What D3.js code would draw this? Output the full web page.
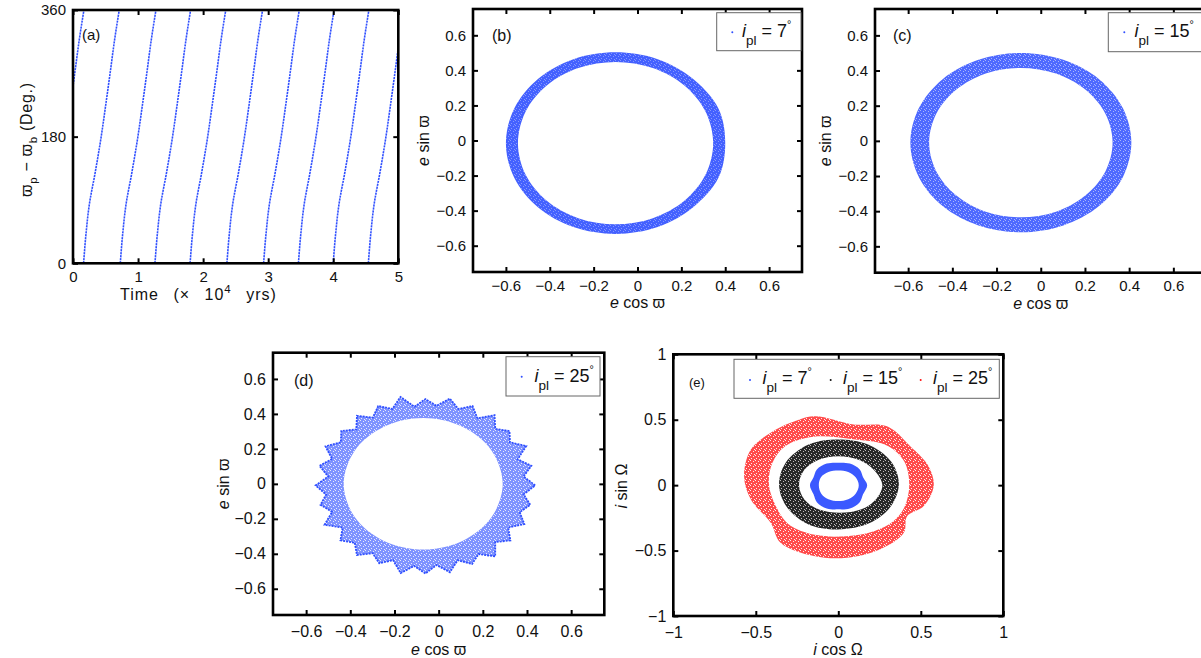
<!DOCTYPE html>
<html>
<head>
<meta charset="utf-8">
<script src="https://cdn.jsdelivr.net/npm/d3@7"></script>
<style>
  body { margin: 0; background: #fff; }
  svg { display: block; }
</style>
</head>
<body>
<div class="container"></div>
<script>
var W = 1201;
var H = 658;
var FONT = "'Liberation Sans', Arial, Helvetica, sans-serif";

// ---- (a) resonant angle sweeps: start time of each sweep (x 10^4 yrs) and the sweep shape
const sweepStart = [-0.38, 0.163, 0.727, 1.26, 1.80, 2.366, 2.93, 3.465, 4.00, 4.54];
const sweepDeg = [0, 40, 83, 130, 178, 225, 272, 320, 360];
const sweepDt = [0, 0.035, 0.087, 0.18, 0.267, 0.34, 0.41, 0.48, 0.548];
const timeTicks = [0, 1, 2, 3, 4, 5];
const angleTicks = [0, 180, 360];

// ---- (b) i_pl = 7 deg, eccentricity vector ring
const ringB_outer = [[0.40, -0.015], [0.37, 0.18], [0.254, 0.351], [0.092, 0.464], [-0.1, 0.503],
  [-0.292, 0.464], [-0.454, 0.351], [-0.562, 0.183], [-0.6, -0.015], [-0.562, -0.213], [-0.454, -0.381],
  [-0.292, -0.494], [-0.1, -0.533], [0.092, -0.494], [0.254, -0.381], [0.37, -0.21]];
const ringB_inner = [[0.345, -0.015], [0.311, 0.162], [0.215, 0.312], [0.07, 0.413], [-0.1, 0.448],
  [-0.27, 0.413], [-0.415, 0.312], [-0.511, 0.162], [-0.545, -0.015], [-0.511, -0.192], [-0.415, -0.342],
  [-0.27, -0.443], [-0.1, -0.478], [0.07, -0.443], [0.215, -0.342], [0.311, -0.192]];

// ---- (c) i_pl = 15 deg
const ringC_outer = [[0.41, -0.01], [0.372, 0.185], [0.264, 0.351], [0.102, 0.461], [-0.09, 0.50],
  [-0.282, 0.461], [-0.444, 0.351], [-0.552, 0.185], [-0.59, -0.01], [-0.552, -0.205], [-0.444, -0.371],
  [-0.282, -0.481], [-0.09, -0.52], [0.102, -0.481], [0.264, -0.371], [0.372, -0.205]];
const ringC_inner = [[0.325, -0.01], [0.293, 0.153], [0.203, 0.29], [0.069, 0.383], [-0.09, 0.415],
  [-0.249, 0.383], [-0.383, 0.29], [-0.473, 0.153], [-0.505, -0.01], [-0.473, -0.173], [-0.383, -0.31],
  [-0.249, -0.403], [-0.09, -0.435], [0.069, -0.403], [0.203, -0.31], [0.293, -0.173]];

// ---- (d) i_pl = 25 deg: zig-zag outer edge (relative radius, evenly spaced in angle)
const ringD_center = [-0.06, -0.009];
const ringD_axes = [0.497, 0.509];
const ringD_radii = [1.0, 0.9, 0.99, 0.89, 1.02, 0.91, 0.98, 0.9, 1.01, 0.89, 0.99, 0.91, 1.0, 0.9,
  0.97, 0.89, 1.02, 0.91, 0.99, 0.9, 1.0, 0.89, 0.98, 0.91, 1.01, 0.9, 0.99, 0.89, 1.0, 0.91,
  0.98, 0.9, 1.02, 0.89, 0.99, 0.91, 1.0, 0.9, 0.97, 0.89, 1.01, 0.91, 0.99, 0.9, 1.0, 0.89,
  0.98, 0.91, 1.02, 0.9, 0.99, 0.89, 1.0, 0.91, 0.98, 0.9];
const ringD_inner = [[0.29, 0.0], [0.24, 0.19], [0.11, 0.325], [-0.07, 0.376], [-0.25, 0.325],
  [-0.38, 0.19], [-0.43, 0.0], [-0.38, -0.19], [-0.25, -0.325], [-0.07, -0.376], [0.11, -0.325], [0.24, -0.19]];

// ---- (e) inclination vector rings
const incl7_outer = [[0.175, 0.0], [0.15, 0.06], [0.13, 0.12], [0.07, 0.165], [0.0, 0.172], [-0.07, 0.165],
  [-0.13, 0.12], [-0.15, 0.06], [-0.172, 0.0], [-0.15, -0.07], [-0.13, -0.13], [-0.07, -0.178],
  [0.0, -0.185], [0.07, -0.178], [0.13, -0.13], [0.15, -0.07]];
const incl7_inner = [[0.124, 0.0], [0.105, 0.06], [0.06, 0.1], [0.0, 0.112], [-0.06, 0.1], [-0.105, 0.06],
  [-0.118, 0.0], [-0.103, -0.065], [-0.06, -0.108], [0.0, -0.122], [0.06, -0.108], [0.105, -0.065]];
const incl15_outer = [[0.367, 0.01], [0.32, 0.18], [0.18, 0.31], [0.0, 0.349], [-0.18, 0.31], [-0.32, 0.17],
  [-0.359, 0.0], [-0.31, -0.17], [-0.18, -0.30], [0.0, -0.338], [0.19, -0.29], [0.32, -0.16]];
const incl15_inner = [[0.267, 0.0], [0.22, 0.11], [0.13, 0.19], [0.0, 0.221], [-0.125, 0.19], [-0.21, 0.11],
  [-0.238, 0.0], [-0.205, -0.11], [-0.12, -0.185], [0.01, -0.211], [0.14, -0.185], [0.23, -0.105]];
const incl25_outer = [[-0.148, 0.527], [0.093, 0.464], [0.295, 0.45], [0.436, 0.298], [0.547, 0.145],
  [0.578, -0.007], [0.518, -0.16], [0.417, -0.237], [0.397, -0.364], [0.255, -0.49], [0.053, -0.555],
  [-0.148, -0.542], [-0.35, -0.44], [-0.41, -0.287], [-0.53, -0.11], [-0.571, 0.069], [-0.53, 0.272],
  [-0.41, 0.4], [-0.289, 0.476]];
const incl25_inner = [[-0.15, 0.37], [0.09, 0.35], [0.30, 0.3], [0.40, 0.18], [0.43, 0.0], [0.40, -0.17],
  [0.33, -0.28], [0.22, -0.35], [0.05, -0.39], [-0.14, -0.38], [-0.30, -0.30], [-0.37, -0.18],
  [-0.42, 0.0], [-0.40, 0.17], [-0.32, 0.30]];

const eccTicks = [-0.6, -0.4, -0.2, 0, 0.2, 0.4, 0.6];
const incTicks = [-1, -0.5, 0, 0.5, 1];
const legendValues = ["7", "15", "25"];

var BLUE = "#3050ff";

var svg = d3.select(".container").append("svg")
  .attr("width", W).attr("height", H)
  .attr("font-family", FONT);

svg.append("rect").attr("width", W).attr("height", H).attr("fill", "#fff");

// sparse white speckle so the filled rings read like dense dot clouds
var defs = svg.append("defs");
var speckle = defs.append("pattern").attr("id", "speckle")
  .attr("width", 5).attr("height", 5).attr("patternUnits", "userSpaceOnUse");
[[0, 0], [3, 1], [1, 3], [4, 4]].forEach(function (p) {
  speckle.append("rect").attr("x", p[0]).attr("y", p[1]).attr("width", 1).attr("height", 1).attr("fill", "#fff");
});

function fmt(d) {
  return String(d).replace("-", "\u2212");
}

function setupPanel(p) {
  var x = d3.scaleLinear().domain(p.xDomain).range([p.left, p.right]);
  var y = d3.scaleLinear().domain(p.yDomain).range([p.bottom, p.top]);
  var g = svg.append("g");
  g.append("clipPath").attr("id", "clip-" + p.id)
    .append("rect")
    .attr("x", p.left).attr("y", p.top)
    .attr("width", p.right - p.left).attr("height", p.bottom - p.top);
  var plot = g.append("g").attr("clip-path", "url(#clip-" + p.id + ")");
  return { g: g, plot: plot, x: x, y: y };
}

function finishPanel(P, p) {
  var g = P.g, x = P.x, y = P.y;
  var t = 5;
  g.append("g").attr("transform", "translate(0," + p.bottom + ")")
    .call(d3.axisBottom(x).tickValues(p.xTicks).tickSize(-t).tickPadding(p.xPad).tickFormat(fmt));
  g.append("g").attr("transform", "translate(" + p.left + ",0)")
    .call(d3.axisLeft(y).tickValues(p.yTicks).tickSize(-t).tickPadding(7).tickFormat(fmt));
  g.append("g").attr("transform", "translate(0," + p.top + ")")
    .call(d3.axisTop(x).tickValues(p.xTicks).tickSize(-t).tickFormat(""));
  g.append("g").attr("transform", "translate(" + p.right + ",0)")
    .call(d3.axisRight(y).tickValues(p.yTicks).tickSize(-t).tickFormat(""));
  g.selectAll(".domain").remove();
  g.selectAll(".tick line").attr("stroke", "#000").attr("stroke-width", 2);
  g.selectAll(".tick text")
    .attr("font-size", p.tickFont)
    .attr("font-family", FONT)
    .attr("fill", "#111");

  // thick frame
  g.append("rect")
    .attr("x", p.left).attr("y", p.top)
    .attr("width", p.right - p.left).attr("height", p.bottom - p.top)
    .attr("fill", "none").attr("stroke", "#000").attr("stroke-width", 2.6);

  // panel tag
  g.append("text")
    .attr("x", p.tag[0]).attr("y", p.tag[1])
    .attr("font-size", p.tagFont).attr("fill", "#111")
    .text(p.tagText);
}

// axis label made of pieces: t text, i italic, sub / sup shift
function axisLabel(g, x, y, rotate, size, parts, length) {
  var t = g.append("text")
    .attr("font-size", size).attr("fill", "#111")
    .attr("text-anchor", "middle")
    .attr("transform", "translate(" + x + "," + y + ")" + (rotate ? " rotate(-90)" : ""));
  var shift = 0;
  parts.forEach(function (pt) {
    var s = t.append("tspan").text(pt.t);
    if (pt.i) s.attr("font-style", "italic");
    var want = pt.sub ? 5 : pt.sup ? -7 : 0;
    if (want !== shift) s.attr("dy", want - shift);
    if (pt.sub || pt.sup) s.attr("font-size", size * 0.72);
    shift = want;
  });
  if (length) t.attr("textLength", length).attr("lengthAdjust", "spacing");
  return t;
}

function legend(g, box, items, size) {
  g.append("rect")
    .attr("x", box[0]).attr("y", box[1])
    .attr("width", box[2] - box[0]).attr("height", box[3] - box[1])
    .attr("fill", "#fff").attr("stroke", "#666").attr("stroke-width", 1);
  items.forEach(function (it) {
    g.append("circle").attr("cx", it.dot[0]).attr("cy", it.dot[1]).attr("r", 1)
      .attr("fill", it.color);
    var t = g.append("text").attr("x", it.tx).attr("y", it.ty)
      .attr("font-size", size).attr("fill", "#111");
    t.append("tspan").attr("font-style", "italic").text("i");
    t.append("tspan").attr("font-size", size * 0.75).attr("dy", 8).text("pl");
    t.append("tspan").attr("dy", -8).text(" = " + it.value);
    t.append("tspan").attr("font-size", size * 0.6).attr("dy", -9).text("\u00b0");
  });
}

function ring(P, outer, inner, curveOuter) {
  var lo = d3.line().x(function (d) { return P.x(d[0]); }).y(function (d) { return P.y(d[1]); })
    .curve(curveOuter || d3.curveCatmullRomClosed);
  var li = d3.line().x(function (d) { return P.x(d[0]); }).y(function (d) { return P.y(d[1]); })
    .curve(d3.curveCatmullRomClosed);
  return lo(outer) + li(inner);
}

function drawRing(P, d, color, opacity, speck) {
  P.plot.append("path").attr("d", d)
    .attr("fill", color).attr("fill-rule", "evenodd").attr("fill-opacity", opacity);
  if (speck) {
    P.plot.append("path").attr("d", d)
      .attr("fill", "url(#speckle)").attr("fill-rule", "evenodd").attr("opacity", speck);
  }
}

// ================= (a)
var pa = { id: "a", left: 73, right: 398.3, top: 10, bottom: 263.3, xDomain: [0, 5], yDomain: [0, 360],
  xTicks: timeTicks, yTicks: angleTicks, xPad: 8, tickFont: 15, tag: [82, 40], tagText: "(a)", tagFont: 15 };
var A = setupPanel(pa);
var sweepLine = d3.line()
  .x(function (d) { return A.x(d[0]); })
  .y(function (d) { return A.y(d[1]); })
  .curve(d3.curveMonotoneY);
A.plot.selectAll("path.sweep")
  .data(sweepStart)
  .enter().append("path")
  .attr("class", "sweep")
  .attr("d", function (t0) {
    return sweepLine(sweepDeg.map(function (deg, i) { return [t0 + sweepDt[i], deg]; }));
  })
  .attr("fill", "none").attr("stroke", BLUE).attr("stroke-width", 1.6)
  .attr("stroke-dasharray", "2.2 0.8");
finishPanel(A, pa);

// x label of (a)
var timeLab = A.g.append("text").attr("x", 120).attr("y", 300)
  .attr("font-size", 16).attr("fill", "#111")
  .attr("letter-spacing", 1).attr("word-spacing", 9);
timeLab.append("tspan").text("Time (\u00d7 10");
timeLab.append("tspan").attr("dy", -7).attr("font-size", 11.5).text("4");
timeLab.append("tspan").attr("dy", 7).text(" yrs)");

axisLabel(A.g, 32, 140, true, 16,
  [{ t: "\u03d6" }, { t: "p", sub: true }, { t: " \u2212 \u03d6" }, { t: "b", sub: true }, { t: " (Deg.)" }], 114);

// ================= (b), (c), (d)
var eccPanels = [
  { id: "b", left: 473, right: 802, top: 9, bottom: 272, tag: [492, 41], lab: 1, legendBox: [716.7, 12.7, 801, 50.7],
    dot: [732.3, 32.3], tx: 742, ty: 37, value: legendValues[0] },
  { id: "c", left: 875, right: 1206.5, top: 9, bottom: 272.7, tag: [893, 41], lab: 1, legendBox: [1108.3, 12.7, 1210, 51.7],
    dot: [1124.3, 32.3], tx: 1134.5, ty: 37, value: legendValues[1] },
  { id: "d", left: 273, right: 604.3, top: 352.7, bottom: 615, tag: [294, 386], lab: 2, legendBox: [506, 356.7, 600, 396],
    dot: [521.7, 376.7], tx: 534.5, ty: 381.5, value: legendValues[2] }
];

eccPanels.forEach(function (p) {
  p.xDomain = [-0.75, 0.75]; p.yDomain = [-0.75, 0.75];
  p.xTicks = eccTicks; p.yTicks = eccTicks;
  p.xPad = p.lab === 1 ? 8 : 11;
  p.tickFont = p.lab === 1 ? 15 : 16;
  p.tagText = "(" + p.id + ")"; p.tagFont = 16;
  var P = setupPanel(p);

  if (p.id === "b") {
    drawRing(P, ring(P, ringB_outer, ringB_inner), BLUE, 0.9, 0.35);
  } else if (p.id === "c") {
    drawRing(P, ring(P, ringC_outer, ringC_inner), BLUE, 0.85, 0.5);
  } else {
    var n = ringD_radii.length;
    var zig = ringD_radii.map(function (r, i) {
      var a = i / n * 2 * Math.PI;
      return [ringD_center[0] + ringD_axes[0] * r * Math.cos(a), ringD_center[1] + ringD_axes[1] * r * Math.sin(a)];
    });
    drawRing(P, ring(P, zig, ringD_inner, d3.curveLinearClosed), BLUE, 0.62, 0.8);
    P.plot.append("path")
      .attr("d", d3.line().x(function (d) { return P.x(d[0]); }).y(function (d) { return P.y(d[1]); })
        .curve(d3.curveLinearClosed)(zig))
      .attr("fill", "none").attr("stroke", BLUE).attr("stroke-width", 1.8).attr("stroke-dasharray", "2 1");
  }

  finishPanel(P, p);
  var labY = p.lab === 1 ? p.bottom + 36 : p.bottom + 40;
  axisLabel(P.g, (p.left + p.right) / 2, labY, false, 16,
    [{ t: "e", i: true }, { t: " cos \u03d6" }]);
  axisLabel(P.g, p.left - 44, (p.top + p.bottom) / 2, true, 16,
    [{ t: "e", i: true }, { t: " sin \u03d6" }]);
  legend(P.g, p.legendBox, [{ dot: p.dot, tx: p.tx, ty: p.ty, value: p.value, color: BLUE }], 18);
});

// ================= (e)
var pe = { id: "e", left: 673.3, right: 1003.3, top: 354.3, bottom: 616, xDomain: [-1, 1], yDomain: [-1, 1],
  xTicks: incTicks, yTicks: incTicks, xPad: 11, tickFont: 16, tag: [689, 387], tagText: "(e)", tagFont: 13 };
var E = setupPanel(pe);
drawRing(E, ring(E, incl25_outer, incl25_inner), "#ff1010", 0.75, 0.9);
drawRing(E, ring(E, incl15_outer, incl15_inner), "#111", 0.9, 0.7);
drawRing(E, ring(E, incl7_outer, incl7_inner), BLUE, 0.95, 0);
finishPanel(E, pe);
axisLabel(E.g, 838, 655, false, 16, [{ t: "i", i: true }, { t: " cos \u03a9" }]);
axisLabel(E.g, 627, 486, true, 16, [{ t: "i", i: true }, { t: " sin \u03a9" }]);
legend(E.g, [734, 359.3, 999.3, 398.3], [
  { dot: [750, 380], tx: 762.5, ty: 384, value: legendValues[0], color: BLUE },
  { dot: [830.7, 380], tx: 843, ty: 384, value: legendValues[1], color: "#111" },
  { dot: [920.7, 380], tx: 933, ty: 384, value: legendValues[2], color: "#ff1010" }
], 18);
</script>
</body>
</html>
